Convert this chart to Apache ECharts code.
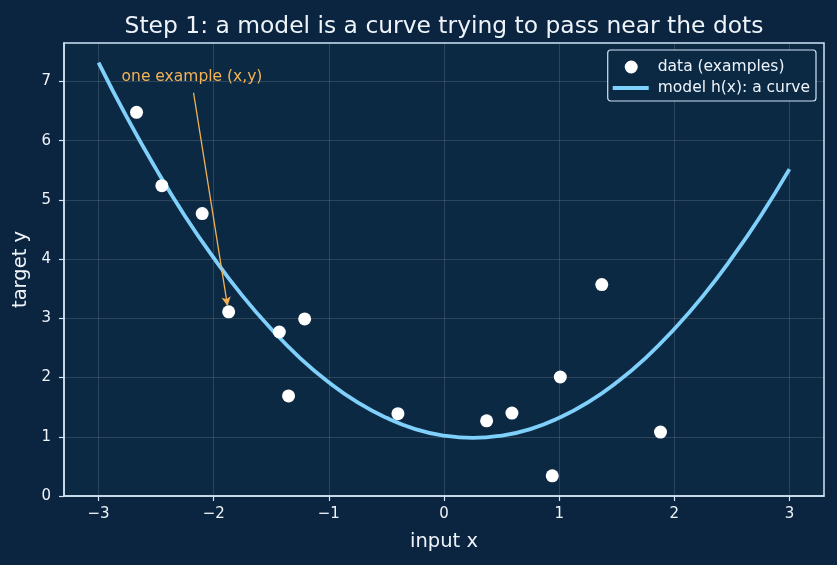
<!DOCTYPE html>
<html>
<head>
<meta charset="utf-8">
<script src="https://cdn.jsdelivr.net/npm/echarts@6/dist/echarts.min.js"></script>
<style>
  html, body { margin: 0; padding: 0; background: #0b2540; }
  #main { width: 837px; height: 565px; }
</style>
</head>
<body>
<div id="main"></div>
<script>
// points (x, y)
var dataX = [-2.67, -2.45, -2.10, -1.87, -1.43, -1.21, -1.35, -0.40, 0.37, 0.59, 0.94, 1.01, 1.37, 1.88];
var dataY = [6.48, 5.24, 4.77, 3.11, 2.77, 2.99, 1.69, 1.39, 1.27, 1.40, 0.34, 2.01, 3.57, 1.08];

// model curve
var curveX = [-3, -2.75, -2.5, -2.25, -2, -1.75, -1.5, -1.25, -1, -0.75, -0.5, -0.25, 0,
              0.25, 0.5, 0.75, 1, 1.25, 1.5, 1.75, 2, 2.25, 2.5, 2.75, 3];
var curveY = [7.32, 6.38, 5.52, 4.73, 4.02, 3.38, 2.82, 2.33, 1.92, 1.58, 1.32, 1.13, 1.02,
              0.98, 1.02, 1.13, 1.32, 1.58, 1.92, 2.33, 2.82, 3.38, 4.02, 4.73, 5.52];

var xTicks = [-3, -2, -1, 0, 1, 2, 3];
var yTicks = [0, 1, 2, 3, 4, 5, 6, 7];

// annotation: text anchor and arrow ends, in data units
var noteText = [-2.80, 7.07];
var noteArrow = [[-2.175, 6.81], [-1.88, 3.21]];

var fontFam = 'DejaVu Sans';
var txt = '#eef4fa';
var spine = '#cfe3f5';
var curveColor = '#7fd0fb';
var noteColor = '#f2b256';
var gridColor = 'rgba(255,255,255,0.17)';

function zip(a, b) {
    var out = [];
    for (var i = 0; i < a.length; i++) out.push([a[i], b[i]]);
    return out;
}
// integer ticks only, with a real minus sign
function fmt(v) {
    var r = Math.round(v);
    if (Math.abs(v - r) > 1e-6) return '';
    return r < 0 ? '\u2212' + Math.abs(r) : String(r);
}

var myChart = echarts.init(document.getElementById('main'));
myChart.setOption({
    backgroundColor: '#0b2540',
    textStyle: { fontFamily: fontFam },
    title: {
        text: 'Step 1: a model is a curve trying to pass near the dots',
        left: 439,
        textAlign: 'center',
        top: 10,
        textStyle: { color: txt, fontSize: 23.4, fontWeight: 'normal', fontFamily: fontFam }
    },
    legend: {
        orient: 'vertical',
        right: 21,
        top: 50,
        itemWidth: 40,
        itemHeight: 13,
        itemGap: 5,
        padding: [9, 6, 5, 5],
        backgroundColor: '#0c2944',
        borderColor: spine,
        borderWidth: 1.2,
        borderRadius: 3,
        textStyle: { color: txt, fontSize: 15.5, fontFamily: fontFam },
        data: [
            { name: 'data (examples)', icon: 'path://M12,6.5 A6.5,6.5 0 1 1 25,6.5 A6.5,6.5 0 1 1 12,6.5 Z M0,0 L0,13 M40,0 L40,13' },
            { name: 'model h(x): a curve', icon: 'path://M0,0 L36,0 L36,4 L0,4 Z M40,0 L40,4' }
        ]
    },
    grid: {
        left: 64, right: 13, top: 43, bottom: 69,
        show: true,
        backgroundColor: '#0c2944',
        borderColor: spine,
        borderWidth: 1.5
    },
    xAxis: {
        type: 'value',
        min: -3.3, max: 3.3,
        splitNumber: 6,
        name: 'input x',
        nameLocation: 'middle',
        nameGap: 36,
        nameTextStyle: { color: txt, fontSize: 19.5, fontFamily: fontFam },
        axisLine: { show: true, onZero: false, lineStyle: { color: spine, width: 1.5 } },
        axisTick: { show: true, length: 5, customValues: xTicks, lineStyle: { color: spine, width: 1.2 } },
        axisLabel: { color: txt, fontSize: 15, margin: 11, customValues: xTicks, formatter: fmt },
        splitLine: { show: true, lineStyle: { color: gridColor, width: 0.8 } }
    },
    yAxis: {
        type: 'value',
        min: 0, max: 7.65,
        interval: 1,
        name: 'target y',
        nameLocation: 'middle',
        nameGap: 30,
        nameTextStyle: { color: txt, fontSize: 19.5, fontFamily: fontFam },
        axisLine: { show: true, onZero: false, lineStyle: { color: spine, width: 1.5 } },
        axisTick: { show: true, length: 5, customValues: yTicks, lineStyle: { color: spine, width: 1.2 } },
        axisLabel: { color: txt, fontSize: 15, margin: 13, customValues: yTicks, formatter: fmt },
        splitLine: { show: true, lineStyle: { color: gridColor, width: 0.8 } }
    },
    series: [
        {
            name: 'model h(x): a curve',
            type: 'line',
            data: zip(curveX, curveY),
            smooth: true,
            showSymbol: false,
            symbol: 'none',
            z: 2,
            lineStyle: { color: curveColor, width: 3.8 },
            itemStyle: { color: curveColor }
        },
        {
            name: 'data (examples)',
            type: 'scatter',
            data: zip(dataX, dataY),
            symbolSize: 13,
            z: 3,
            itemStyle: { color: '#ffffff', opacity: 1 },
            markLine: {
                silent: true,
                symbol: ['none', 'arrow'],
                symbolSize: [7, 9],
                label: { show: false },
                lineStyle: { color: noteColor, width: 1.3, type: 'solid' },
                data: [[{ coord: noteArrow[0] }, { coord: noteArrow[1] }]]
            },
            markPoint: {
                silent: true,
                symbol: 'circle',
                symbolSize: 0,
                label: {
                    show: true,
                    position: 'right',
                    distance: 0,
                    color: noteColor,
                    fontSize: 15.5,
                    fontFamily: fontFam,
                    formatter: 'one example (x,y)'
                },
                data: [{ coord: noteText }]
            }
        }
    ]
});
</script>
</body>
</html>
